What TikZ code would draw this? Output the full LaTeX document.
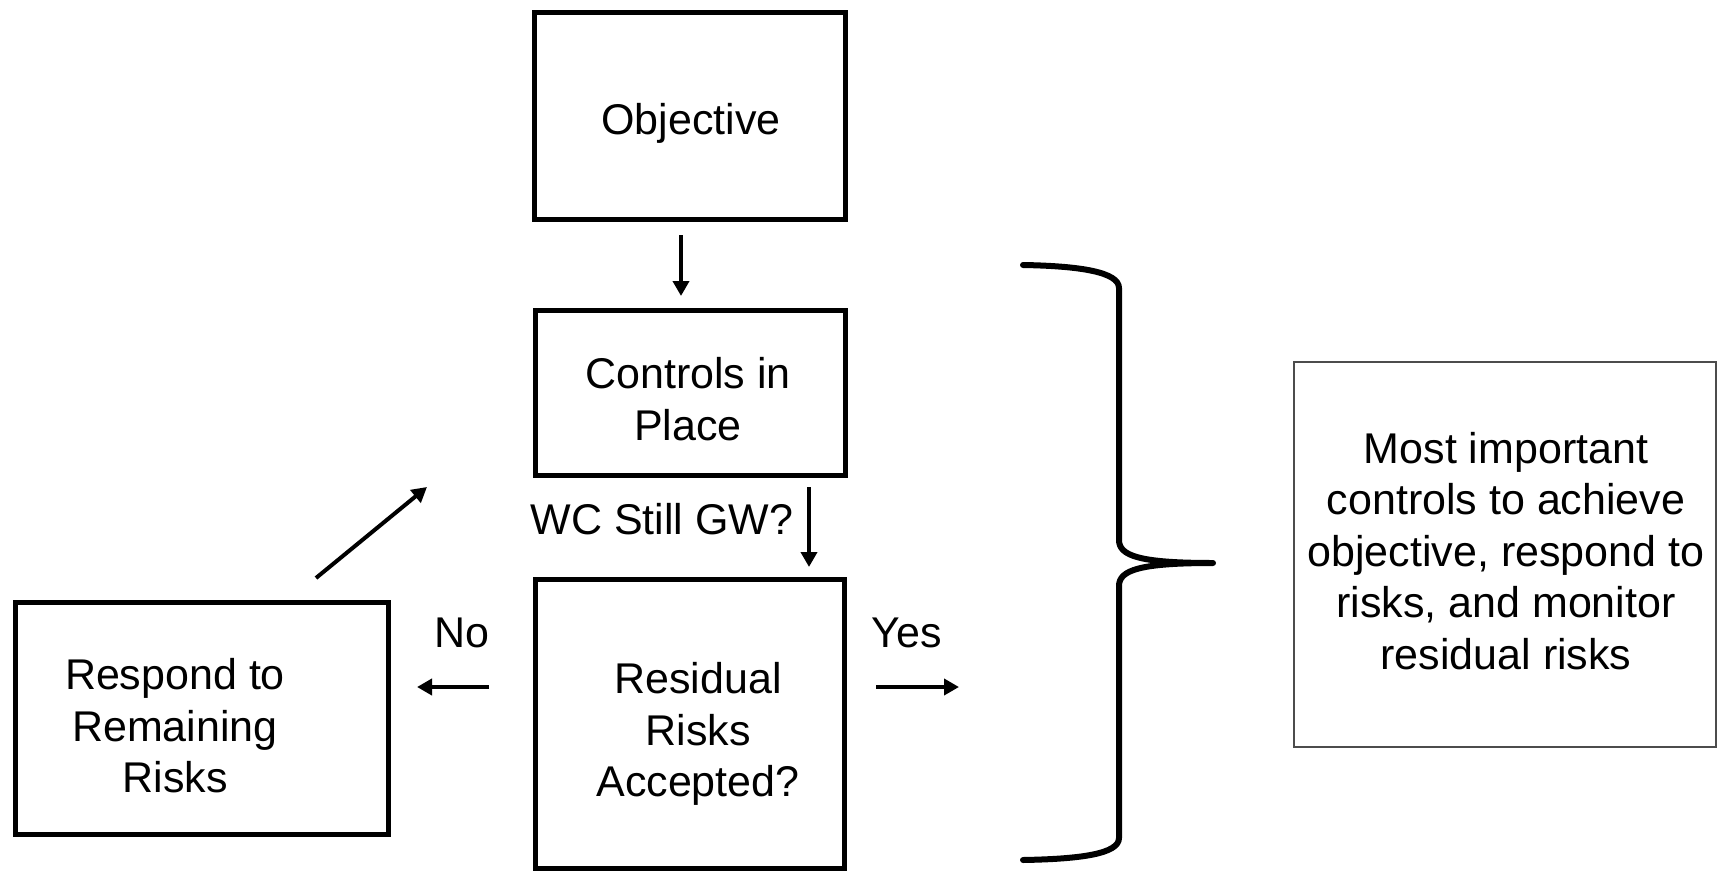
\documentclass[tikz,border=0pt]{standalone}
\usepackage{fontspec}
\setmainfont{Liberation Sans}
\usetikzlibrary{arrows.meta}
\begin{document}
\begin{tikzpicture}[x=0.5pt,y=-0.5pt,
  boxnode/.style={draw=black,line width=2.5pt,inner sep=0pt},
  txt/.style={font=\fontsize{21.5pt}{25.8pt}\selectfont,align=center,inner sep=0pt},
  arr/.style={line width=2pt,-{Triangle[length=7.5pt,width=8pt]}},
  bracestyle/.style={line width=3pt,line cap=round,line join=round}]
\useasboundingbox (0,0) rectangle (1717,872);
% boxes
\node[boxnode,minimum width=155.5pt,minimum height=103pt] (obj) at (689.5,116) {};
\node[boxnode,minimum width=155pt,minimum height=82.5pt] (ctrl) at (690.5,393) {};
\node[boxnode,minimum width=154.5pt,minimum height=144.5pt] (resid) at (690,724) {};
\node[boxnode,minimum width=186.5pt,minimum height=116pt] (resp) at (202,718.5) {};
\node[draw=black!70,line width=0.6pt,inner sep=0pt,minimum width=211pt,minimum height=192.5pt] (note) at (1505,554.5) {};
% texts
\node[txt] (objtxt) at (691,123) {Objective};
\node[txt] (ctrltxt) at (688,399) {Controls in\\Place};
\node[txt] (residtxt) at (698,734) {Residual\\Risks\\Accepted?};
\node[txt] (resptxt) at (175,726) {Respond to\\Remaining\\Risks};
\node[txt] (notetxt) at (1506,551) {Most important\\controls to achieve\\objective, respond to\\risks, and monitor\\residual risks};
\node[txt] (wc) at (662,519) {WC Still GW?};
\node[txt] (no) at (462,633) {No};
\node[txt] (yes) at (907,633) {Yes};
% arrow ends
\coordinate (a1s) at (681,235);
\coordinate (a1e) at (681,296);
\coordinate (a2s) at (809,487);
\coordinate (a2e) at (809,567);
\coordinate (nos) at (489,687);
\coordinate (noe) at (417,687);
\coordinate (yess) at (876,687);
\coordinate (yese) at (959,687);
\coordinate (ds) at (316,578);
\coordinate (de) at (427,487);
\draw[arr] (a1s) -- (a1e);
\draw[arr] (a2s) -- (a2e);
\draw[arr] (nos) -- (noe);
\draw[arr] (yess) -- (yese);
\draw[arr] (ds) -- (de);
% brace
\coordinate (bt) at (1023,265);
\coordinate (bb) at (1023,860);
\coordinate (bc) at (1213,563);
\draw[bracestyle] (bt) .. controls (1080,266) and (1119,272) .. (1119,288)
  -- (1119,540) .. controls (1119,556) and (1140,563) .. (bc)
  .. controls (1140,563) and (1119,570) .. (1119,586)
  -- (1119,838) .. controls (1119,854) and (1080,859) .. (bb);
\end{tikzpicture}
\end{document}
